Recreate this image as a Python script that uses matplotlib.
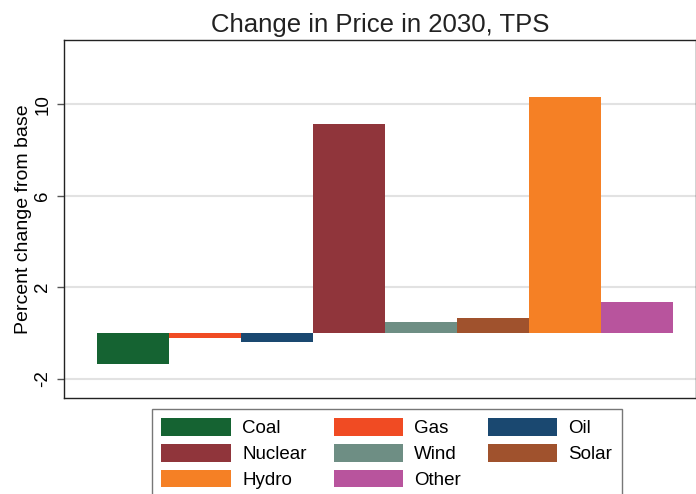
import numpy as np
import matplotlib.pyplot as plt
from matplotlib.patches import Patch

plt.rcParams['font.family'] = ['Liberation Sans', 'DejaVu Sans']

# data
fuels = ["Coal", "Gas", "Oil", "Nuclear", "Wind", "Solar", "Hydro", "Other"]
pct_change = [-1.35, -0.2, -0.38, 9.12, 0.48, 0.65, 10.3, 1.35]
colors = ["#156332", "#f04b23", "#1a4870", "#90353b",
          "#6e8e84", "#a0522d", "#f58025", "#b8549d"]
yticks = [-2, 2, 6, 10]

fig = plt.figure(figsize=(6.96, 4.94), dpi=100)
ax = fig.add_axes([64 / 696, 1 - 398 / 494, 632 / 696, 358 / 494])

x = np.arange(1, len(fuels) + 1)
ax.bar(x, pct_change, width=1.0, color=colors, edgecolor="none", zorder=3)

ax.set_xlim(0.042, 8.82)
ax.set_ylim(-2.84, 12.8)
ax.set_xticks([])
ax.set_yticks(yticks)
ax.set_yticklabels([str(t) for t in yticks], rotation=90, va="center", fontsize=13.5)
ax.tick_params(axis="y", length=5, width=1, color="#555555", pad=4)
ax.grid(axis="y", color="#e2e2e2", lw=1.5, zorder=0)
for s in ax.spines.values():
    s.set_color("#222222")
    s.set_linewidth(1)

ax.set_ylabel("Percent change from base", fontsize=14, labelpad=2)
ax.set_title("Change in Price in 2030, TPS", fontsize=18.5, pad=6, color="#222222")

# legend filled row by row like the reference (3 columns)
ncol = 3
order = [i for c in range(ncol) for i in range(c, len(fuels), ncol)]
handles = [Patch(facecolor=colors[i], edgecolor="none") for i in order]
labels = [fuels[i] for i in order]
leg = fig.legend(handles, labels, ncol=ncol, loc="upper left",
                 bbox_to_anchor=(152 / 696, 1 - 409 / 494),
                 fontsize=13.5, handlelength=3.7, handleheight=1.05,
                 handletextpad=0.6, labelspacing=0.36, columnspacing=1.44,
                 borderpad=0.5, borderaxespad=0, frameon=True, fancybox=False)
leg.get_frame().set_edgecolor("#555555")
leg.get_frame().set_linewidth(1)

fig.savefig("out.png", dpi=100)
